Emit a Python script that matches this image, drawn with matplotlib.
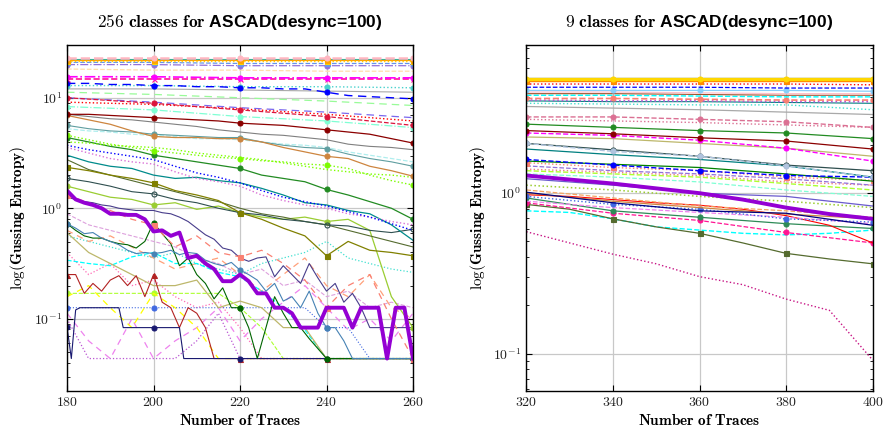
import matplotlib
matplotlib.use("Agg")
import matplotlib.pyplot as plt
import numpy as np

plt.rcParams["font.family"] = "serif"
plt.rcParams["font.serif"] = ["cmr10", "DejaVu Serif"]
plt.rcParams["mathtext.fontset"] = "cm"
plt.rcParams["axes.unicode_minus"] = False
plt.rcParams["axes.formatter.use_mathtext"] = True

# ---------------- data: log10 of guessing entropy ----------------
# left panel (256 classes), traces 180..260
x20_left = [180, 200, 220, 240, 260]
x5_left = list(range(180, 261, 5))
x2_left = list(range(180, 261, 2))

a01 = [1.36, 1.36, 1.36, 1.36, 1.36]
a02 = [1.34, 1.34, 1.34, 1.34, 1.34]
a03 = [1.33, 1.33, 1.33, 1.33, 1.33]
a04 = [1.32, 1.32, 1.31, 1.31, 1.31]
a05 = [1.35, 1.35, 1.35, 1.35, 1.35]
a06 = [1.30, 1.30, 1.29, 1.29, 1.29]
a07 = [1.26, 1.25, 1.25, 1.24, 1.24]
a08 = [1.19, 1.19, 1.18, 1.18, 1.18]
a09 = [1.17, 1.17, 1.17, 1.17, 1.17]
a11 = [1.11, 1.11, 1.10, 1.10, 1.09]
a12 = [1.08, 1.08, 1.07, 1.06, 1.05]
a13 = [1.05, 1.03, 1.00, 0.97, 0.93]
a14 = [1.00, 0.95, 0.89, 0.83, 0.75]
a15 = [1.00, 0.96, 0.91, 0.87, 0.82]
a16 = [0.96, 0.94, 0.90, 0.85, 0.79]
a17 = [0.92, 0.89, 0.83, 0.79, 0.73]

a10 = [1.13, 1.13, 1.12, 1.12, 1.11, 1.11, 1.10, 1.10, 1.09, 1.09, 1.08, 1.08, 1.05, 1.02, 1.01, 1.00, 0.99]
a18 = [0.85, 0.85, 0.84, 0.83, 0.82, 0.81, 0.80, 0.79, 0.77, 0.76, 0.75, 0.73, 0.71, 0.69, 0.67, 0.63, 0.59]
a19 = [0.85, 0.83, 0.81, 0.80, 0.78, 0.76, 0.74, 0.71, 0.69, 0.67, 0.66, 0.64, 0.62, 0.58, 0.56, 0.55, 0.53]
a20 = [0.84, 0.80, 0.76, 0.70, 0.65, 0.64, 0.64, 0.63, 0.63, 0.60, 0.55, 0.51, 0.47, 0.45, 0.38, 0.34, 0.29]
a21 = [0.75, 0.72, 0.70, 0.69, 0.67, 0.66, 0.65, 0.64, 0.64, 0.60, 0.57, 0.55, 0.54, 0.49, 0.45, 0.42, 0.38]
a22 = [0.72, 0.70, 0.69, 0.67, 0.66, 0.65, 0.63, 0.63, 0.62, 0.60, 0.58, 0.57, 0.55, 0.51, 0.48, 0.45, 0.42]
a23 = [0.66, 0.62, 0.58, 0.55, 0.52, 0.50, 0.48, 0.46, 0.45, 0.43, 0.42, 0.40, 0.39, 0.36, 0.30, 0.25, 0.21]
a24 = [0.60, 0.59, 0.57, 0.56, 0.55, 0.53, 0.50, 0.48, 0.46, 0.44, 0.41, 0.38, 0.35, 0.33, 0.31, 0.30, 0.28]
a25 = [0.64, 0.60, 0.56, 0.53, 0.48, 0.45, 0.42, 0.39, 0.36, 0.30, 0.27, 0.24, 0.17, 0.12, 0.06, 0.00, -0.10]
a26 = [0.57, 0.53, 0.50, 0.47, 0.44, 0.38, 0.32, 0.28, 0.23, 0.16, 0.10, 0.06, 0.02, -0.03, -0.08, -0.14, -0.20]
a27 = [0.55, 0.50, 0.45, 0.42, 0.40, 0.33, 0.27, 0.24, 0.20, 0.12, 0.07, 0.03, 0.00, -0.05, -0.08, -0.12, -0.15]
a28 = [0.48, 0.42, 0.38, 0.36, 0.30, 0.27, 0.28, 0.25, 0.23, 0.18, 0.12, 0.05, 0.03, -0.02, -0.05, -0.15, -0.29]
a29 = [0.37, 0.34, 0.30, 0.27, 0.23, 0.16, 0.12, 0.07, -0.04, -0.10, -0.18, -0.25, -0.43, -0.30, -0.38, -0.40, -0.43]
a30 = [0.27, 0.24, 0.20, 0.15, 0.13, 0.08, 0.05, 0.00, -0.04, -0.06, -0.10, -0.12, -0.15, -0.16, -0.20, -0.22, -0.19]
a31 = [0.44, 0.35, 0.30, 0.25, 0.20, 0.15, 0.10, 0.06, 0.00, -0.05, -0.08, -0.12, -0.15, -0.20, -0.25, -0.30, -0.35]
a32 = [0.20, 0.15, 0.10, 0.08, 0.03, 0.05, -0.01, 0.02, -0.04, -0.08, -0.10, -0.08, -0.12, -0.10, -0.20, -0.80, -1.08]
a33 = [0.12, 0.05, -0.02, -0.10, -0.15, -0.35, -0.25, -0.40, -0.44, -0.38, -0.50, -0.65, -0.90, -0.70, -0.60, -1.00, -1.36]
a34 = [-0.22, -0.40, -0.50, -0.60, -0.70, -0.70, -0.65, -0.90, -0.84, -0.90, -1.08, -1.08, -1.36, -1.36, -1.36, -1.36, -1.36]
a35 = [-0.47, -0.50, -0.52, -0.44, -0.40, -0.50, -0.50, -0.58, -0.62, -0.75, -0.90, -1.10, -1.36, -1.36, -1.36, -1.36, -1.36]
a36 = [-0.80, -0.70, -0.90, -1.08, -0.77, -0.90, -1.08, -1.36, -1.36, -1.36, -1.36, -1.36, -1.36, -1.36, -1.36, -1.36, -1.36]
a37 = [-0.77, -0.77, -0.77, -0.77, -0.77, -0.77, -0.77, -0.77, -0.90, -1.08, -1.36, -1.36, -1.36, -1.36, -1.36, -1.36, -1.36]
a38 = [-0.90, -0.90, -0.90, -0.90, -0.90, -0.90, -0.90, -0.90, -0.90, -0.90, -0.90, -0.90, -1.08, -1.08, -1.36, -1.36, -1.36]
a39 = [-0.95, -1.20, -1.36, -1.00, -1.36, -1.20, -1.08, -0.90, -1.20, -1.00, -0.85, -0.70, -0.90, -1.10, -1.00, -1.20, -0.95]
a40 = [-1.00, -1.36, -1.36, -1.36, -1.36, -1.36, -1.20, -0.95, -1.36, -1.36, -1.36, -1.36, -1.36, -1.36, -1.36, -1.36, -1.36]
a41 = [-0.20, -0.30, -0.25, -0.35, -0.45, -0.55, -0.50, -0.45, -0.60, -0.75, -0.60, -0.45, -0.70, -0.80, -0.60, -0.90, -1.00]
a42 = [-0.25, -0.30, -0.35, -0.40, -0.45, -0.40, -0.50, -0.55, -0.60, -0.50, -0.45, -0.40, -0.30, -0.45, -0.50, -0.55, -0.58]
a43 = [-0.40, -0.60, -0.50, -0.70, -0.65, -0.80, -0.90, -0.85, -1.08, -1.36, -1.36, -1.36, -1.36, -1.36, -1.36, -1.36, -1.36]
a44 = [-0.05, -0.15, -0.20, -0.25, -0.30, -0.35, -0.45, -0.50, -0.60, -0.55, -0.70, -0.65, -0.80, -0.75, -0.90, -0.85, -0.90]

purple_256 = [0.16, 0.08, 0.05, 0.03, 0.00, -0.05, -0.05, -0.06, -0.06, -0.10,
              -0.21, -0.20, -0.25, -0.22, -0.45, -0.43, -0.50, -0.55, -0.66, -0.66,
              -0.60, -0.66, -0.77, -0.77, -0.90, -0.90, -0.95, -1.08, -1.08, -1.08,
              -0.90, -0.90, -0.90, -1.08, -0.90, -0.90, -0.90, -1.36, -0.90, -0.90, -1.36]
slate_256 = [0.10, 0.08, 0.06, 0.05, 0.03, 0.02, 0.00, -0.01, -0.02, -0.02,
             -0.02, -0.04, -0.05, -0.08, -0.12, -0.18, -0.24, -0.28, -0.36, -0.38,
             -0.45, -0.48, -0.45, -0.44, -0.62, -0.52, -0.60, -0.68, -0.50, -0.63,
             -0.75, -0.68, -0.85, -0.77, -0.90, -1.08, -1.08, -1.08, -1.08, -1.08, -1.08]
steel_256 = [-0.14, -0.18, -0.23, -0.22, -0.27, -0.30, -0.33, -0.38, -0.41, -0.40,
             -0.41, -0.40, -0.38, -0.42, -0.40, -0.41, -0.47, -0.50, -0.52, -0.49,
             -0.56, -0.60, -0.65, -0.75, -0.68, -0.84, -0.80, -0.90, -0.75, -0.95,
             -1.08, -1.08, -1.20, -1.36, -1.36, -1.36, -1.36, -1.36, -1.36, -1.36, -1.36]

navy_x = [180, 181, 182, 183, 192, 193, 200, 206, 207, 220, 240, 260]
navy_256 = [-1.07, -1.36, -0.92, -0.90, -0.90, -1.08, -1.08, -1.08, -1.36, -1.36, -1.36, -1.36]
brick_x = [180, 182, 184, 186, 188, 190, 192, 194, 196, 198, 200, 202, 204, 206, 208, 210, 212, 214, 220, 240, 260]
brick_256 = [-0.60, -0.60, -0.77, -0.68, -0.75, -0.65, -0.61, -0.70, -0.61, -0.80, -0.60,
             -0.85, -0.90, -1.08, -0.90, -0.95, -1.08, -1.36, -1.36, -1.36, -1.36]
dgreen_x = list(range(180, 241, 2)) + [260]
dgreen_256 = [-0.14, -0.20, -0.25, -0.27, -0.27, -0.30, -0.32, -0.33, -0.36, -0.30, -0.13,
              -0.23, -0.32, -0.52, -0.45, -0.60, -0.68, -0.82, -0.72, -0.90, -0.90,
              -1.08, -1.36, -1.08, -0.80, -0.95, -1.08, -1.08, -1.18, -1.27, -1.36, -1.36]

# right panel (9 classes), traces 320..400
x20_right = [320, 340, 360, 380, 400]
x10_right = list(range(320, 401, 10))

b01 = [0.71, 0.71, 0.71, 0.71, 0.71]
b02 = [0.70, 0.70, 0.70, 0.70, 0.70]
b03 = [0.715, 0.715, 0.715, 0.715, 0.715]
b04 = [0.68, 0.68, 0.68, 0.68, 0.675]
b05 = [0.66, 0.66, 0.66, 0.655, 0.655]
b06 = [0.64, 0.64, 0.64, 0.64, 0.635]
b07 = [0.63, 0.63, 0.625, 0.62, 0.62]
b08 = [0.62, 0.62, 0.615, 0.61, 0.61]
b09 = [0.61, 0.61, 0.605, 0.60, 0.60]
b10 = [0.59, 0.59, 0.585, 0.58, 0.58]
b11 = [0.58, 0.575, 0.575, 0.57, 0.57]
b12 = [0.575, 0.57, 0.57, 0.565, 0.56]
b13 = [0.56, 0.555, 0.55, 0.55, 0.52]
b14 = [0.54, 0.53, 0.52, 0.505, 0.49]
b15 = [0.475, 0.475, 0.46, 0.445, 0.41]
b16 = [0.46, 0.45, 0.44, 0.425, 0.41]
b17 = [0.43, 0.41, 0.39, 0.375, 0.34]
b18 = [0.39, 0.37, 0.345, 0.325, 0.275]
b19 = [0.375, 0.36, 0.33, 0.28, 0.20]
b20 = [0.35, 0.34, 0.31, 0.28, 0.23]
b21 = [0.31, 0.26, 0.23, 0.17, 0.10]
b22 = [0.31, 0.27, 0.23, 0.175, 0.14]
b23 = [0.275, 0.24, 0.21, 0.17, 0.10]
b24 = [0.21, 0.175, 0.14, 0.11, 0.10]
b25 = [0.20, 0.18, 0.16, 0.12, 0.075]
b26 = [0.19, 0.16, 0.14, 0.10, 0.08]
b27 = [0.14, 0.12, 0.10, 0.06, 0.02]
b28 = [0.17, 0.14, 0.12, 0.09, 0.05]
b30 = [0.09, 0.05, 0.00, -0.02, -0.08]
b31 = [0.006, -0.06, -0.11, -0.125, -0.20]
b32 = [-0.03, -0.11, -0.15, -0.19, -0.22]
b35 = [-0.06, -0.125, -0.17, -0.245, -0.31]
b38 = [0.02, -0.03, -0.08, -0.11, -0.15]
b39 = [0.00, -0.05, -0.09, -0.13, -0.16]
b40 = [-0.02, -0.07, -0.10, -0.16, -0.18]
b41 = [0.05, 0.02, -0.02, -0.05, -0.09]
b42 = [-0.05, -0.09, -0.12, -0.15, -0.19]
b43 = [0.12, 0.10, 0.07, 0.02, -0.02]
b44 = [0.15, 0.13, 0.11, 0.07, 0.05]

purple_9 = [0.11, 0.085, 0.06, 0.03, 0.00, -0.04, -0.09, -0.13, -0.16]
b33 = [-0.07, -0.10, -0.16, -0.21, -0.25, -0.31, -0.375, -0.41, -0.44]
b34 = [-0.11, -0.12, -0.16, -0.21, -0.23, -0.25, -0.26, -0.25, -0.23]
b36 = [-0.01, -0.02, -0.04, -0.06, -0.075, -0.10, -0.14, -0.20, -0.31]
b37 = [-0.24, -0.31, -0.38, -0.44, -0.52, -0.57, -0.66, -0.73, -1.04]

# ---------------- styles ----------------
left_series = [
    (x5_left, a44, "plum", "--", None, 0.8),
    (x5_left, a43, "hotpink", ":", None, 0.9),
    (x5_left, a42, "turquoise", ":", None, 0.9),
    (x5_left, a41, "lightsalmon", (0, (5, 4)), None, 0.9),
    (x5_left, a40, "mediumorchid", ":", None, 0.9),
    (x5_left, a39, "violet", (0, (5, 4)), None, 0.9),
    (x5_left, a38, "royalblue", ":", "o", 0.8),
    (x5_left, a37, "greenyellow", "--", "o", 0.8),
    (x5_left, a36, "yellow", (0, (5, 4)), None, 0.9),
    (x5_left, a35, "cyan", "--", None, 0.9),
    (x5_left, a34, "darkkhaki", "-", None, 0.9),
    (brick_x, brick_256, "firebrick", "-", "^", 0.8),
    (navy_x, navy_256, "midnightblue", "-", "o", 0.8),
    (dgreen_x, dgreen_256, "darkgreen", "-", "o", 0.8),
    (x2_left, steel_256, "steelblue", "-", "o", 0.8),
    (x2_left, slate_256, "darkslateblue", "-", None, 0.8),
    (x5_left, a33, "salmon", (0, (5, 4)), "s", 0.9),
    (x5_left, a32, "yellowgreen", "-", "o", 0.9),
    (x5_left, a31, "darkolivegreen", "-", None, 0.8),
    (x5_left, a30, "darkslategray", "-", "o", 0.8),
    (x5_left, a29, "olive", "-", "s", 0.9),
    (x5_left, a28, "darkcyan", "-", None, 0.9),
    (x5_left, a27, "orchid", ":", None, 1.0),
    (x5_left, a26, "blue", ":", None, 1.0),
    (x5_left, a25, "forestgreen", "-", "o", 0.9),
    (x5_left, a24, "chartreuse", ":", None, 1.0),
    (x5_left, a23, "lawngreen", ":", "o", 1.0),
    (x5_left, a22, "paleturquoise", "--", None, 0.9),
    (x5_left, a21, "cadetblue", "-", "o", 0.8),
    (x5_left, a20, "peru", "-", "o", 0.9),
    (x5_left, a19, "gray", "-", None, 0.8),
    (x5_left, a18, "darkred", "-", "o", 0.9),
    (x20_left, a17, "aquamarine", "-.", "o", 0.9),
    (x20_left, a16, "red", ":", None, 1.0),
    (x20_left, a15, "mediumslateblue", (0, (6, 4)), None, 0.9),
    (x20_left, a14, "crimson", "--", "o", 0.9),
    (x20_left, a13, "palegreen", (0, (6, 4)), None, 0.9),
    (x20_left, a12, "darkgray", "-", None, 0.8),
    (x20_left, a11, "mediumturquoise", ":", "o", 1.0),
    (x5_left, a10, "blue", (0, (6, 4)), "o", 1.0),
    (x20_left, a09, "deeppink", "--", "x", 1.2),
    (x20_left, a08, "magenta", "-.", "o", 1.2),
    (x20_left, a07, "navajowhite", "--", None, 0.9),
    (x20_left, a06, "mediumpurple", "-.", "o", 0.9),
    (x20_left, a05, "lightseagreen", "-", None, 0.8),
    (x20_left, a04, "cornflowerblue", "--", "s", 0.9),
    (x20_left, a03, "gold", ":", "^", 1.0),
    (x20_left, a02, "orange", "-", "s", 0.9),
    (x20_left, a01, "lightpink", "--", "o", 1.8),
    (x2_left, purple_256, "darkviolet", "-", None, 2.8),
]

right_series = [
    (x10_right, b37, "mediumvioletred", ":", None, 1.0),
    (x10_right, b34, "cyan", "--", None, 1.0),
    (x10_right, b33, "darkolivegreen", "-", "s", 0.9),
    (x20_right, b35, "deeppink", "--", "o", 0.9),
    (x20_right, b32, "seagreen", "-", "o", 0.9),
    (x10_right, b36, "red", "-", None, 0.8),
    (x20_right, b42, "violet", "--", None, 0.9),
    (x20_right, b40, "royalblue", ":", "o", 1.0),
    (x20_right, b39, "peru", "-", None, 0.9),
    (x20_right, b38, "sandybrown", "--", None, 0.9),
    (x20_right, b31, "navy", "-", None, 0.9),
    (x20_right, b41, "yellowgreen", ":", None, 1.1),
    (x20_right, b30, "slateblue", "-", None, 0.9),
    (x20_right, b43, "aquamarine", "--", None, 0.9),
    (x20_right, b44, "lightcoral", ":", None, 1.0),
    (x20_right, b27, "greenyellow", "--", None, 1.0),
    (x20_right, b28, "mediumpurple", "--", None, 0.9),
    (x20_right, b26, "salmon", ":", "s", 1.0),
    (x20_right, b25, "green", "-", None, 0.9),
    (x20_right, b24, "blue", "--", "o", 1.0),
    (x20_right, b23, "teal", "-", None, 0.9),
    (x20_right, b22, "darkslategray", "-", "o", 0.9),
    (x20_right, b21, "lightsteelblue", "--", "o", 1.0),
    (x20_right, b20, "darkkhaki", "-", None, 0.9),
    (x20_right, b19, "magenta", "--", "o", 1.0),
    (x20_right, b18, "darkred", "-", "o", 0.9),
    (x20_right, b17, "forestgreen", "-", "o", 0.9),
    (x20_right, b16, "palevioletred", ":", None, 1.0),
    (x20_right, b15, "palevioletred", "--", "o", 1.0),
    (x20_right, b14, "darkgray", "-", None, 0.9),
    (x20_right, b13, "turquoise", ":", None, 1.0),
    (x20_right, b12, "teal", "-", None, 0.8),
    (x20_right, b11, "mediumorchid", ":", None, 1.2),
    (x20_right, b10, "salmon", "--", "o", 1.2),
    (x20_right, b09, "cyan", "--", None, 1.0),
    (x20_right, b08, "sienna", "-", None, 0.8),
    (x20_right, b07, "pink", "-", None, 0.9),
    (x20_right, b06, "lightskyblue", "-", "o", 0.9),
    (x20_right, b05, "blue", "--", None, 0.9),
    (x20_right, b04, "red", ":", None, 1.0),
    (x20_right, b03, "olive", "-", None, 1.0),
    (x20_right, b02, "darkorange", "-", "s", 1.0),
    (x20_right, b01, "gold", "-", "o", 2.2),
    (x10_right, purple_9, "darkviolet", "-", None, 2.8),
]


def draw(ax, series):
    for xs, logv, color, ls, marker, lw in series:
        xs = np.asarray(xs)
        ys = np.power(10.0, np.asarray(logv))
        marks = [i for i, x in enumerate(xs) if x % 20 == 0]
        face = "none" if color == "darkslategray" else color
        ax.plot(xs, ys, color=color, linestyle=ls, linewidth=lw,
                marker=marker, markevery=marks, markersize=3.6,
                markerfacecolor=face, markeredgewidth=0.8)


def style_axes(ax, xticks, yticks, ylabels, ylim, title_num):
    ax.set_yscale("log")
    ax.set_xlim(xticks[0], xticks[-1])
    ax.set_ylim(*ylim)
    ax.set_xticks(xticks)
    ax.set_yticks(yticks)
    ax.set_yticklabels(ylabels)
    ax.grid(True, which="major", color="#c8c8c8", linewidth=0.9)
    ax.set_axisbelow(True)
    ax.tick_params(which="both", direction="in", top=True, right=True,
                   labelsize=10, colors="black", labelcolor="#222222")
    ax.tick_params(which="major", length=4)
    ax.tick_params(which="minor", length=2.5)
    ax.tick_params(axis="x", pad=4)
    for sp in ax.spines.values():
        sp.set_linewidth(1.0)
    ax.set_xlabel(r"$\mathbf{Number\ of\ Traces}$", fontsize=11, labelpad=3)
    ax.set_ylabel(r"$\log(\mathbf{Gussing\ Entropy})$", fontsize=11, labelpad=4)
    ax.set_title(r"$\mathbf{" + title_num + r"\ classes\ for}$ ASCAD(desync=100)",
                 fontsize=12.5, pad=13, fontweight="bold",
                 fontfamily=["Liberation Sans Narrow", "Liberation Sans", "DejaVu Sans"])


fig = plt.figure(figsize=(8.85, 4.34), dpi=100)
ax1 = fig.add_axes([0.0757, 0.100, 0.391, 0.797])
ax2 = fig.add_axes([0.5947, 0.100, 0.3914, 0.797])

draw(ax1, left_series)
draw(ax2, right_series)

style_axes(ax1, [180, 200, 220, 240, 260], [0.1, 1, 10],
           [r"$10^{-1}$", r"$10^{0}$", r"$10^{1}$"],
           (10 ** -1.65, 10 ** 1.48), "256")
style_axes(ax2, [320, 340, 360, 380, 400], [0.1, 1],
           [r"$10^{-1}$", r"$10^{0}$"],
           (10 ** -1.23, 10 ** 0.925), "9")

fig.savefig("out.png", dpi=100)
